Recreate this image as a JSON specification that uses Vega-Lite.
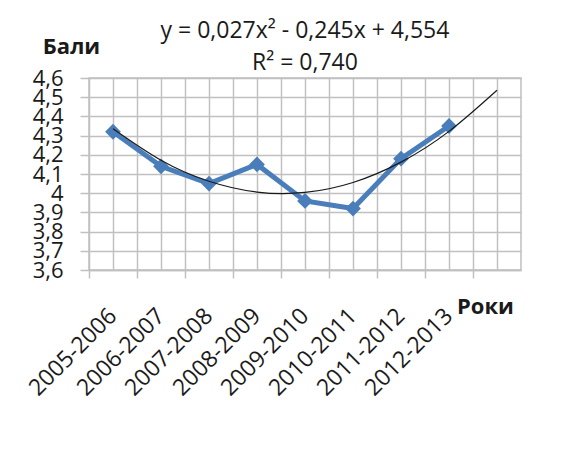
{
  "$schema": "https://vega.github.io/schema/vega-lite/v6.json",
  "width": 432,
  "height": 192,
  "autosize": "none",
  "padding": {"left": 89, "top": 78, "right": 41, "bottom": 204},
  "background": "white",
  "datasets": {
    "scores": [
      {"period": "2005-2006", "score": 4.32},
      {"period": "2006-2007", "score": 4.14},
      {"period": "2007-2008", "score": 4.05},
      {"period": "2008-2009", "score": 4.15},
      {"period": "2009-2010", "score": 3.96},
      {"period": "2010-2011", "score": 3.92},
      {"period": "2011-2012", "score": 4.18},
      {"period": "2012-2013", "score": 4.35}
    ],
    "trend": [
      {"period": "2005-2006", "trend": 4.336},
      {"period": "2006-2007", "trend": 4.172},
      {"period": "2007-2008", "trend": 4.062},
      {"period": "2008-2009", "trend": 4.006},
      {"period": "2009-2010", "trend": 4.004},
      {"period": "2010-2011", "trend": 4.056},
      {"period": "2011-2012", "trend": 4.162},
      {"period": "2012-2013", "trend": 4.322},
      {"period": "2013-2014", "trend": 4.536}
    ]
  },
  "title": {
    "text": ["y = 0,027x² - 0,245x + 4,554", "R² = 0,740"],
    "font": "Open Sans",
    "fontSize": 23,
    "fontWeight": "normal",
    "color": "#1a1a1a",
    "lineHeight": 32,
    "anchor": "middle",
    "baseline": "alphabetic",
    "offset": -58
  },
  "config": {
    "view": {"stroke": "#c0c0c0", "strokeWidth": 1.5},
    "font": "Open Sans",
    "axisY": {
      "grid": true,
      "gridColor": "#c0c0c0",
      "gridWidth": 1.5,
      "tickSize": 9,
      "tickColor": "#c0c0c0",
      "tickWidth": 1.5,
      "domain": false,
      "labelFont": "Open Sans",
      "labelFontSize": 22,
      "labelColor": "#1a1a1a",
      "labelPadding": 17,
      "labelOverlap": false,
      "labelFlush": false,
      "titleAngle": 0,
      "titleX": -18,
      "titleY": -25,
      "titleAlign": "center",
      "titleBaseline": "alphabetic",
      "titleFont": "Open Sans",
      "titleFontSize": 22,
      "titleFontWeight": "bold",
      "titleColor": "#1a1a1a"
    }
  },
  "resolve": {"axis": {"x": "independent"}},
  "layer": [
    {
      "data": {"name": "scores"},
      "mark": {"type": "line", "color": "#4A7EBB", "strokeWidth": 5},
      "encoding": {
        "x": {
          "field": "period",
          "type": "nominal",
          "sort": null,
          "scale": {
            "type": "band",
            "domain": ["2005-2006", "2006-2007", "2007-2008", "2008-2009", "2009-2010", "2010-2011", "2011-2012", "2012-2013", "2013-2014"],
            "paddingInner": 0,
            "paddingOuter": 0
          },
          "axis": {
            "orient": "bottom",
            "bandPosition": 0.5,
            "grid": true,
            "gridColor": "#c0c0c0",
            "gridWidth": 1.5,
            "ticks": false,
            "domain": false,
            "labelAngle": -45,
            "labelAlign": "right",
            "labelBaseline": "middle",
            "labelPadding": 42,
            "labelFont": "Open Sans",
            "labelFontSize": 23,
            "labelColor": "#1a1a1a",
            "labelOverlap": false,
            "labelBound": false,
            "labelFlush": false,
            "labelExpr": "datum.value == '2013-2014' ? '' : datum.label",
            "title": "Роки",
            "titleFont": "Open Sans",
            "titleFontSize": 22,
            "titleFontWeight": "bold",
            "titleColor": "#1a1a1a",
            "titleX": 396,
            "titleY": 43,
            "titleAlign": "center",
            "titleBaseline": "alphabetic"
          }
        },
        "y": {
          "field": "score",
          "type": "quantitative",
          "scale": {"domain": [3.6, 4.6], "nice": false, "zero": false},
          "axis": {
            "orient": "left",
            "values": [3.6, 3.7, 3.8, 3.9, 4.0, 4.1, 4.2, 4.3, 4.4, 4.5, 4.6],
            "labelExpr": "replace(format(datum.value, '.2~f'), '.', ',')",
            "title": "Бали"
          }
        }
      }
    },
    {
      "data": {"name": "scores"},
      "mark": {"type": "point", "shape": "diamond", "filled": true, "size": 250, "color": "#4A7EBB", "opacity": 1},
      "encoding": {
        "x": {
          "field": "period",
          "type": "nominal",
          "sort": null,
          "scale": {
            "type": "band",
            "domain": ["2005-2006", "2006-2007", "2007-2008", "2008-2009", "2009-2010", "2010-2011", "2011-2012", "2012-2013", "2013-2014"],
            "paddingInner": 0,
            "paddingOuter": 0
          },
          "axis": null
        },
        "y": {
          "field": "score",
          "type": "quantitative",
          "scale": {"domain": [3.6, 4.6], "nice": false, "zero": false},
          "axis": {
            "orient": "left",
            "values": [3.6, 3.7, 3.8, 3.9, 4.0, 4.1, 4.2, 4.3, 4.4, 4.5, 4.6],
            "labelExpr": "replace(format(datum.value, '.2~f'), '.', ',')",
            "title": "Бали"
          }
        }
      }
    },
    {
      "data": {"name": "trend"},
      "mark": {"type": "line", "color": "#1a1a1a", "strokeWidth": 1.2, "interpolate": "natural"},
      "encoding": {
        "x": {
          "field": "period",
          "type": "nominal",
          "sort": null,
          "scale": {
            "type": "band",
            "domain": ["2005-2006", "2006-2007", "2007-2008", "2008-2009", "2009-2010", "2010-2011", "2011-2012", "2012-2013", "2013-2014"],
            "paddingInner": 0,
            "paddingOuter": 0
          },
          "axis": {
            "orient": "bottom",
            "bandPosition": 0,
            "grid": true,
            "gridColor": "#c0c0c0",
            "gridWidth": 1.5,
            "ticks": true,
            "tickSize": 8,
            "tickColor": "#c0c0c0",
            "tickWidth": 1.5,
            "labels": false,
            "domain": true,
            "domainColor": "#c0c0c0",
            "domainWidth": 1.5,
            "title": null
          }
        },
        "y": {
          "field": "trend",
          "type": "quantitative",
          "scale": {"domain": [3.6, 4.6], "nice": false, "zero": false},
          "axis": {
            "orient": "left",
            "values": [3.6, 3.7, 3.8, 3.9, 4.0, 4.1, 4.2, 4.3, 4.4, 4.5, 4.6],
            "labelExpr": "replace(format(datum.value, '.2~f'), '.', ',')",
            "title": "Бали"
          }
        }
      }
    }
  ]
}
